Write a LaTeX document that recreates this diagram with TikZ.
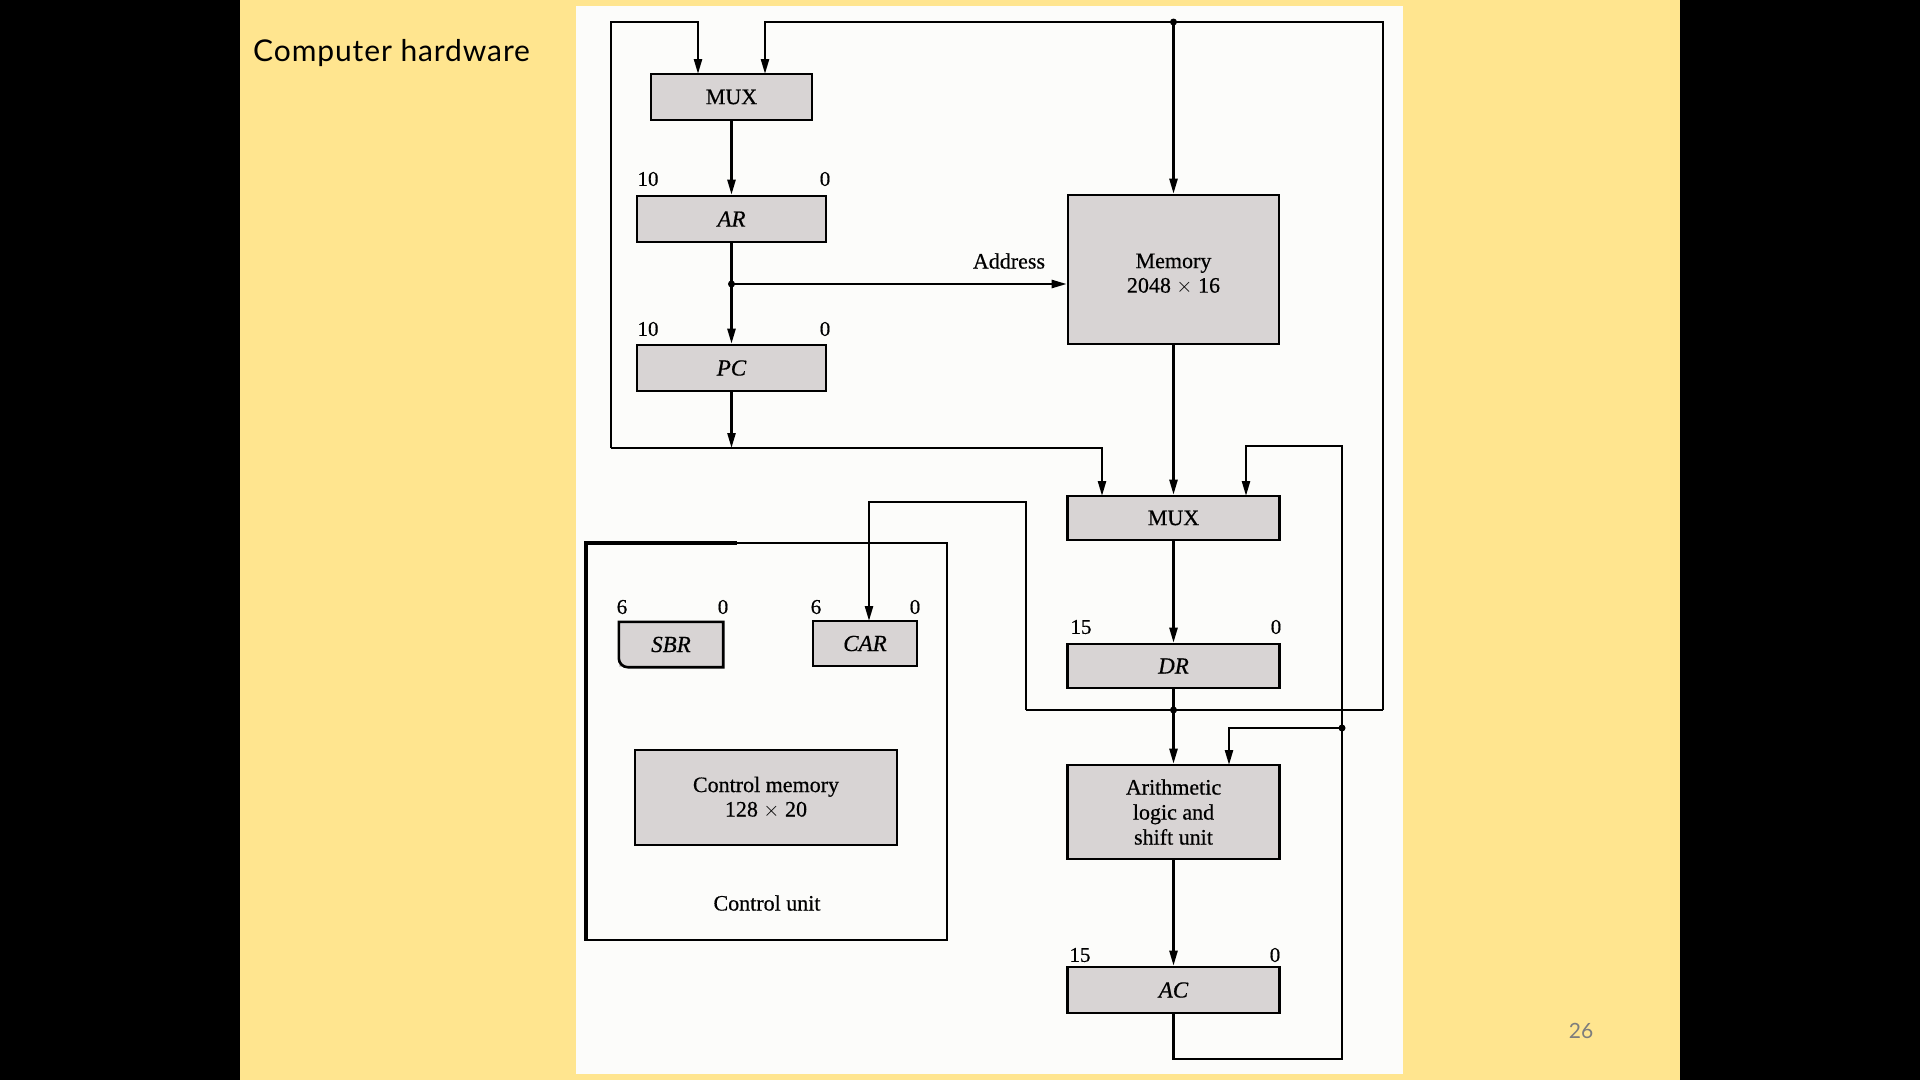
\documentclass[tikz,border=0pt]{standalone}
\usepackage{fontspec}
\setmainfont[FakeBold=0.5]{Liberation Serif}
\newfontfamily\titlefont[LetterSpace=3]{Lato}
\newfontfamily\numfont{Lato}
\usetikzlibrary{arrows.meta,calc}
\definecolor{slidebg}{RGB}{255,229,143}
\definecolor{panelbg}{RGB}{252,252,250}
\definecolor{boxfill}{RGB}{216,212,212}
\definecolor{pagenum}{RGB}{125,125,125}
\begin{document}
\begin{tikzpicture}[x=1pt,y=-1pt,
  box/.style={draw=black,line width=2.6pt,fill=boxfill,inner sep=0pt,align=center,
    font=\fontsize{22}{24.5}\selectfont},
  reg/.style={box,font=\fontsize{23}{26}\selectfont\itshape},
  bit/.style={inner sep=0pt,font=\fontsize{21}{24}\selectfont},
  wire/.style={line width=2.4pt},
  arr/.style={wire,-{Triangle[length=15pt,width=8pt]}},
  dot/.style={fill=black}
]
\useasboundingbox (0,0) rectangle (1920,1080);
% slide background
\fill[black] (0,0) rectangle (1920,1080);
\fill[slidebg] (240,0) rectangle (1680,1080);
\fill[panelbg] (576,6) rectangle (1403,1074);
\node[anchor=base west,inner sep=0pt,font=\titlefont\fontsize{30}{36}\selectfont] (title) at (253,61) {Computer hardware};
\node[font=\numfont\fontsize{21}{24}\selectfont,text=pagenum] (pg) at (1581,1031) {26};

% left column
\node[box,minimum width=161pt,minimum height=46pt] (mux1) at (731.5,97) {MUX};
\node[reg,minimum width=189pt,minimum height=46pt] (ar) at (731.5,219) {AR};
\node[reg,minimum width=189pt,minimum height=46pt] (pc) at (731.5,368) {PC};
\node[bit] (ar10) at (648,179) {10};
\node[bit] (ar0) at (825,179) {0};
\node[bit] (pc10) at (648,329) {10};
\node[bit] (pc0) at (825,329) {0};

% right column
\node[box,minimum width=211pt,minimum height=149pt] (mem) at (1173.5,269.5) {};
\node[inner sep=0pt,align=center,font=\fontsize{22}{24.5}\selectfont] (memtxt) at (1173.5,274) {Memory\\2048 $\times$ 16};
\node[box,minimum width=212pt,minimum height=44pt] (mux2) at (1173.5,518) {MUX};
\node[reg,minimum width=212pt,minimum height=44pt] (dr) at (1173.5,666) {DR};
\node[box,minimum width=212pt,minimum height=94pt,font=\fontsize{22}{25}\selectfont] (alu) at (1173.5,812) {Arithmetic\\logic and\\shift unit};
\node[reg,minimum width=212pt,minimum height=46pt] (ac) at (1173.5,990) {AC};
\node[bit] (dr15) at (1081,627) {15};
\node[bit] (dr0) at (1276,627) {0};
\node[bit] (ac15) at (1080,955) {15};
\node[bit] (ac0) at (1275,955) {0};

% control unit
\draw[line width=2.4pt] (585,543) rectangle (947,940);
\draw[line width=4.5pt] (586,940) -- (586,543) -- (737,543);
\node[draw=none,fill=boxfill,minimum width=104pt,minimum height=45pt,inner sep=0pt,font=\fontsize{23}{26}\selectfont\itshape] (sbr) at (671,644.5) {SBR};
\draw[line width=2.6pt] (sbr.north west) -- (sbr.north east) -- (sbr.south east) -- ($(sbr.south west)+(9,0)$) arc[start angle=90,end angle=180,radius=9] -- cycle;
\node[reg,minimum width=104pt,minimum height=45pt] (car) at (865,643.5) {CAR};
\node[box,minimum width=262pt,minimum height=95pt] (cm) at (766,797.5) {Control memory\\128 $\times$ 20};
\node[inner sep=0pt,font=\fontsize{22}{24}\selectfont] (cul) at (767,903) {Control unit};
\node[bit] (sbr6) at (622,607) {6};
\node[bit] (sbr0) at (723,607) {0};
\node[bit] (car6) at (816,607) {6};
\node[bit] (car0) at (915,607) {0};

% coordinates
\coordinate (arj) at (731.5,284);
\coordinate (pcj) at (731.5,448);
\coordinate (lb) at (611,448);
\coordinate (lt) at (611,22);
\coordinate (m1l) at (698,74);
\coordinate (m1r) at (765,74);
\coordinate (topj) at (1173.5,22);
\coordinate (rt) at (1383,22);
\coordinate (drj) at (1173.5,710);
\coordinate (rb) at (1383,710);
\coordinate (cl) at (1026,710);
\coordinate (ct) at (1026,502);
\coordinate (carin) at (869,621);
\coordinate (m2l) at (1102,496);
\coordinate (m2r) at (1246,496);
\coordinate (acb) at (1173.5,1059);
\coordinate (lr) at (1342,1059);
\coordinate (lrt) at (1342,446);
\coordinate (aluj) at (1342,728);
\coordinate (aluin) at (1229,765);

% connectors, address side
\draw[arr] (mux1) -- (ar);
\draw[arr] (ar) -- (pc);
\draw[arr] (arj) -- (mem.west |- arj);
\node[inner sep=0pt,font=\fontsize{22}{24}\selectfont] (addr) at (1009,261) {Address};
\fill[dot] (arj) circle (3.5pt);
\draw[arr] (pc) -- (pcj);
\draw[arr] (lb) -- (lt) -| (m1l);
\draw[arr] (lb) -| (m2l);

% data bus
\draw[arr] (rb) -- (rt) -- (topj) -| (m1r);
\draw[arr] (topj) -- (mem);
\fill[dot] (topj) circle (3.5pt);
\draw[wire] (rb) -- (cl);
\draw[arr] (cl) -- (ct) -| (carin);
\draw[arr] (dr) -- (alu);
\fill[dot] (drj) circle (3.5pt);
\draw[arr] (mem) -- (mux2);
\draw[arr] (mux2) -- (dr);
\draw[arr] (alu) -- (ac);

% accumulator feedback
\draw[arr] (ac) -- (acb) -- (lr) -- (lrt) -| (m2r);
\draw[arr] (aluj) -| (aluin);
\fill[dot] (aluj) circle (3.5pt);
\end{tikzpicture}
\end{document}
